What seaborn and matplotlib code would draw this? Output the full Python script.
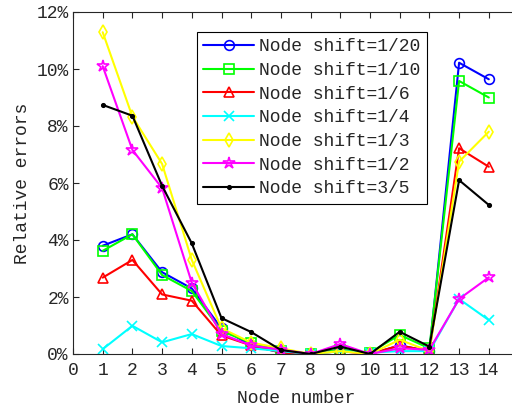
import matplotlib
matplotlib.use("Agg")
import matplotlib.pyplot as plt
import seaborn as sns
import pandas as pd
from matplotlib.ticker import FuncFormatter, MultipleLocator

nodes = list(range(1, 15))
labels = ["Node shift=1/20", "Node shift=1/10", "Node shift=1/6", "Node shift=1/4",
          "Node shift=1/3", "Node shift=1/2", "Node shift=3/5"]
s_1_20 = [3.8, 4.2, 2.87, 2.3, 0.9, 0.3, 0.05, 0.0, 0.15, 0.0, 0.3, 0.1, 10.22, 9.64]
s_1_10 = [3.62, 4.2, 2.77, 2.21, 0.8, 0.4, 0.1, 0.0, 0.15, 0.05, 0.67, 0.2, 9.58, 9.0]
s_1_6 = [2.68, 3.3, 2.09, 1.87, 0.65, 0.3, 0.05, 0.0, 0.1, 0.0, 0.3, 0.1, 7.22, 6.57]
s_1_4 = [0.17, 0.99, 0.41, 0.7, 0.28, 0.2, 0.1, 0.0, 0.1, 0.05, 0.1, 0.1, 1.93, 1.19]
s_1_3 = [11.29, 8.33, 6.67, 3.3, 0.9, 0.4, 0.2, 0.0, 0.1, 0.0, 0.5, 0.1, 6.75, 7.8]
s_1_2 = [10.1, 7.16, 5.82, 2.5, 0.7, 0.3, 0.15, 0.0, 0.35, 0.0, 0.2, 0.15, 1.93, 2.69]
s_3_5 = [8.74, 8.36, 5.9, 3.88, 1.26, 0.77, 0.14, 0.0, 0.26, 0.0, 0.78, 0.26, 6.1, 5.23]
series = [s_1_20, s_1_10, s_1_6, s_1_4, s_1_3, s_1_2, s_3_5]

colors = ["#0000ff", "#00ff00", "#ff0000", "#00ffff", "#ffff00", "#ff00ff", "#000000"]
markers = ["o", "s", "^", "x", "d", "*", "."]

sns.set_style("ticks")
plt.rcParams["font.family"] = ["Liberation Mono", "DejaVu Sans Mono"]

fig = plt.figure(figsize=(5.12, 4.09), dpi=100)
ax = fig.add_axes([73/512, 55/409, 445.5/512, 342/409])

for lab, vals, c, m in zip(labels, series, colors, markers):
    df = pd.DataFrame({"node": nodes, "err": vals})
    sns.lineplot(data=df, x="node", y="err", ax=ax, color=c, marker=m,
                 markersize=(9 if m == "*" else 7 if m != "." else 5),
                 markerfacecolor="none" if m not in "x." else c,
                 markeredgecolor=c, markeredgewidth=1.2, linewidth=1.5, label=lab)

ax.set_xlim(0, 15)
ax.set_ylim(0, 12)
ax.set_xticks(range(0, 15))
ax.yaxis.set_major_locator(MultipleLocator(2))
ax.yaxis.set_major_formatter(FuncFormatter(lambda v, p: f"{int(round(v))}%"))
ax.tick_params(direction="in", length=4, width=0.8, labelsize=13, top=True, right=True,
               colors="#262626")
ax.tick_params(axis="x", pad=6)
ax.tick_params(axis="y", pad=3)
for sp in ax.spines.values():
    sp.set_color("#262626")
    sp.set_linewidth(0.8)
ax.set_xlabel("Node number", fontsize=13, color="#262626", labelpad=8)
ax.set_ylabel("Relative errors", fontsize=13, color="#262626", labelpad=4)

leg = ax.legend(loc="upper left", bbox_to_anchor=(124/445.5, 1 - 20/342), fontsize=13,
                borderaxespad=0, frameon=True, fancybox=False, edgecolor="black",
                framealpha=1, handlelength=2.8, borderpad=0.35, labelspacing=0.37,
                handletextpad=0.3)
leg.get_frame().set_linewidth(0.8)

fig.savefig("out.png", dpi=100)
